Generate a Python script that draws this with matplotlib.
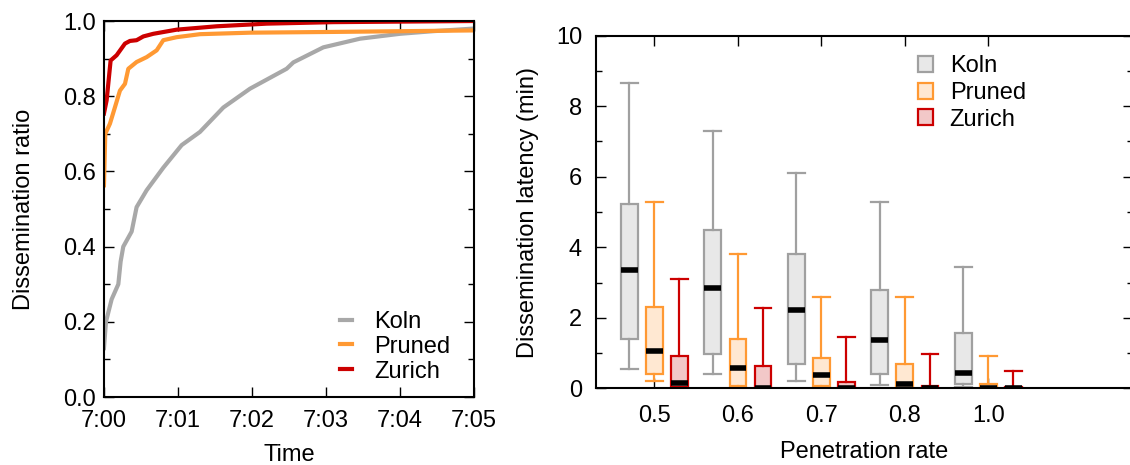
import matplotlib
matplotlib.use("Agg")
import matplotlib.pyplot as plt
from matplotlib.ticker import MultipleLocator

plt.rcParams['font.family'] = ['Liberation Sans', 'DejaVu Sans']

# ---------------- data: left panel (dissemination ratio over time, minutes after 7:00)
koln_t = [0, 0.027, 0.104, 0.194, 0.225, 0.261, 0.374, 0.441, 0.577, 0.802, 1.05, 1.297,
          1.613, 1.973, 2.468, 2.559, 2.964, 3.459, 4.0, 4.45, 5.0]
koln_r = [0.13, 0.20, 0.26, 0.30, 0.36, 0.40, 0.44, 0.505, 0.55, 0.61, 0.67, 0.705,
          0.77, 0.82, 0.873, 0.89, 0.93, 0.953, 0.966, 0.973, 0.98]
pruned_t = [0, 0.018, 0.081, 0.149, 0.216, 0.284, 0.329, 0.441, 0.577, 0.712, 0.802, 0.982,
            1.297, 1.973, 3.099, 5.0]
pruned_r = [0.563, 0.70, 0.727, 0.771, 0.815, 0.833, 0.873, 0.891, 0.904, 0.922, 0.949, 0.957,
            0.965, 0.969, 0.971, 0.975]
zurich_t = [0, 0.036, 0.09, 0.171, 0.284, 0.351, 0.441, 0.532, 0.667, 0.982, 1.523, 2.198,
            3.099, 5.0]
zurich_r = [0.754, 0.789, 0.895, 0.909, 0.94, 0.947, 0.949, 0.959, 0.966, 0.977, 0.986, 0.993,
            0.997, 1.0]
time_labels = ["7:00", "7:01", "7:02", "7:03", "7:04", "7:05"]
ratio_ticks = [0.0, 0.2, 0.4, 0.6, 0.8, 1.0]

# ---------------- data: right panel (box stats per penetration rate)
rates = ["0.5", "0.6", "0.7", "0.8", "1.0"]
series = ["Koln", "Pruned", "Zurich"]
koln_whislo = [0.54, 0.42, 0.21, 0.09, 0.05]
koln_q1 = [1.39, 0.98, 0.70, 0.42, 0.11]
koln_med = [3.35, 2.84, 2.23, 1.36, 0.44]
koln_q3 = [5.23, 4.50, 3.80, 2.80, 1.58]
koln_whishi = [8.65, 7.30, 6.11, 5.28, 3.45]

pruned_whislo = [0.21, 0.0, 0.0, 0.0, 0.0]
pruned_q1 = [0.40, 0.07, 0.06, 0.01, 0.0]
pruned_med = [1.07, 0.57, 0.37, 0.11, 0.02]
pruned_q3 = [2.31, 1.40, 0.86, 0.69, 0.12]
pruned_whishi = [5.27, 3.81, 2.60, 2.58, 0.92]

zurich_whislo = [0.0, 0.0, 0.0, 0.0, 0.0]
zurich_q1 = [0.05, 0.0, 0.0, 0.0, 0.0]
zurich_med = [0.16, 0.02, 0.02, 0.02, 0.02]
zurich_q3 = [0.92, 0.63, 0.17, 0.08, 0.03]
zurich_whishi = [3.10, 2.28, 1.45, 0.96, 0.49]

edge_colors = ["#a0a0a0", "#ff9933", "#cc0000"]
face_colors = ["#e8e8e8", "#ffe8d2", "#f2c8c8"]
line_colors = ["#a8a8a8", "#ff9933", "#cc0000"]

FS = 17

fig = plt.figure(figsize=(11.3, 4.65), dpi=100)

# ---------------- left panel
ax1 = fig.add_axes([0.092, 0.1462, 0.3275, 0.8086])
for t, r, c, name in [(koln_t, koln_r, line_colors[0], "Koln"),
                      (pruned_t, pruned_r, line_colors[1], "Pruned"),
                      (zurich_t, zurich_r, line_colors[2], "Zurich")]:
    ax1.plot(t, r, color=c, lw=3.0, label=name)
ax1.set_xlim(0, 5)
ax1.set_ylim(0, 1)
ax1.set_xticks(range(6))
ax1.set_xticklabels(time_labels)
ax1.set_yticks(ratio_ticks)
ax1.set_yticklabels([f"{v:.1f}" for v in ratio_ticks])
ax1.yaxis.set_minor_locator(MultipleLocator(0.1))
ax1.tick_params(axis='both', which='both', direction='in', top=True, right=True,
                labelsize=FS, width=1.0)
ax1.tick_params(axis='y', pad=6)
ax1.tick_params(axis='x', pad=9)
ax1.tick_params(which='major', length=7)
ax1.tick_params(which='minor', length=4)
ax1.set_xlabel("Time", fontsize=FS, labelpad=9)
ax1.set_ylabel("Dissemination ratio", fontsize=FS, labelpad=20)
for s in ax1.spines.values():
    s.set_linewidth(1.5)
ax1.legend(loc='lower right', bbox_to_anchor=(0.99, -0.015), frameon=False, fontsize=FS,
           handlelength=0.5, handletextpad=0.95, labelspacing=0.12, borderaxespad=0.45)

# ---------------- right panel
ax2 = fig.add_axes([0.5274, 0.1649, 0.475, 0.7583])
stats_by_series = [
    (koln_whislo, koln_q1, koln_med, koln_q3, koln_whishi),
    (pruned_whislo, pruned_q1, pruned_med, pruned_q3, pruned_whishi),
    (zurich_whislo, zurich_q1, zurich_med, zurich_q3, zurich_whishi),
]
offsets = [-0.3, 0.0, 0.3]
bw = 0.2
handles = []
for k, (lo, q1, med, q3, hi) in enumerate(stats_by_series):
    stats = [dict(whislo=lo[i], q1=q1[i], med=med[i], q3=q3[i], whishi=hi[i], fliers=[])
             for i in range(len(rates))]
    pos = [i + offsets[k] for i in range(len(rates))]
    bp = ax2.bxp(stats, positions=pos, widths=bw, capwidths=bw, patch_artist=True,
                 showfliers=False, manage_ticks=False,
                 boxprops=dict(facecolor=face_colors[k], edgecolor=edge_colors[k], linewidth=1.6),
                 whiskerprops=dict(color=edge_colors[k], linewidth=1.6),
                 capprops=dict(color=edge_colors[k], linewidth=1.6),
                 medianprops=dict(color='black', linewidth=4.0, solid_capstyle='butt'))
    handles.append(bp['boxes'][0])
ax2.set_xlim(-0.7, 5.73)
ax2.set_ylim(0, 10)
ax2.set_xticks(range(len(rates)))
ax2.set_xticklabels(rates)
ax2.yaxis.set_major_locator(MultipleLocator(2))
ax2.yaxis.set_minor_locator(MultipleLocator(1))
ax2.tick_params(axis='both', which='both', direction='in', top=True, right=True,
                labelsize=FS, width=1.0)
ax2.tick_params(axis='y', pad=10)
ax2.tick_params(axis='x', pad=12)
ax2.tick_params(which='major', length=7)
ax2.tick_params(which='minor', length=4)
ax2.set_xlabel("Penetration rate", fontsize=FS, labelpad=10)
ax2.set_ylabel("Dissemination latency (min)", fontsize=FS, labelpad=12)
for s in ax2.spines.values():
    s.set_linewidth(1.5)
ax2.legend(handles, series, loc='upper left', bbox_to_anchor=(0.56, 1.005), frameon=False,
           fontsize=FS, handlelength=0.65, handleheight=0.65, handletextpad=0.7,
           labelspacing=0.2, borderaxespad=0.5)

fig.savefig("out.png", dpi=100)
